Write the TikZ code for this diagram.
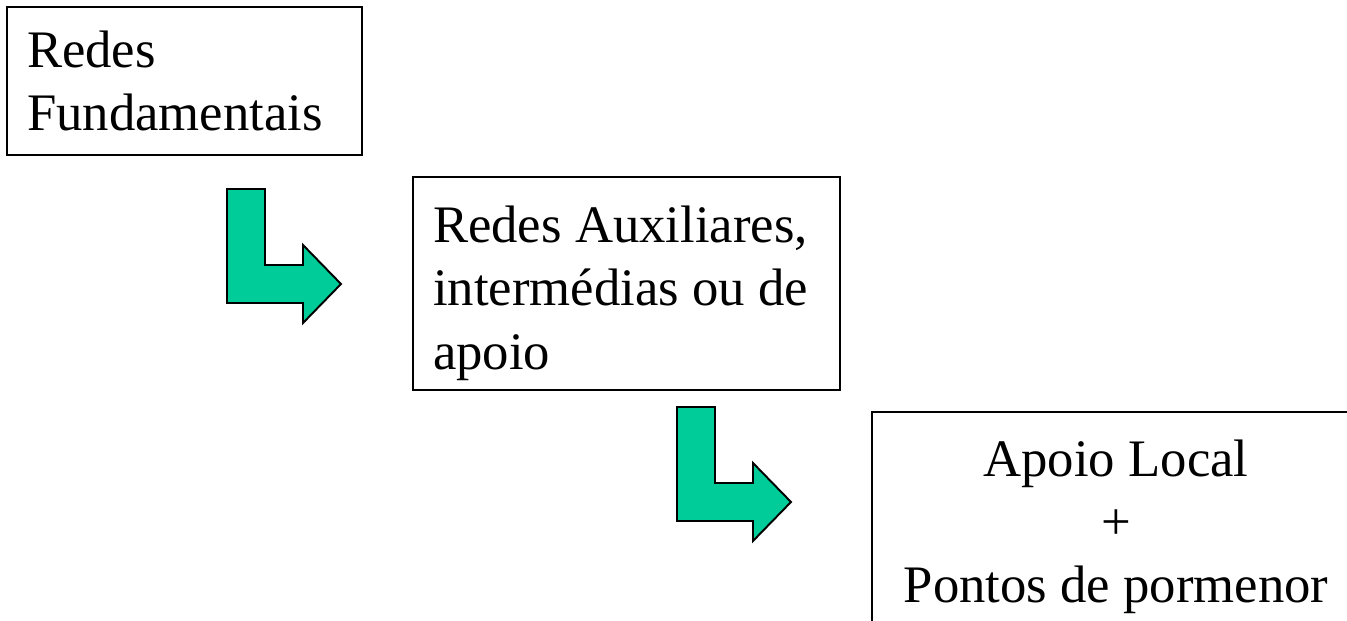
\documentclass[tikz,border=0pt]{standalone}
\usepackage{fontspec}
\setmainfont{Liberation Serif}
\usepackage{tikz}

\definecolor{arrowgreen}{RGB}{0,204,153}

\begin{document}
\begin{tikzpicture}[
                x=0.02cm, y=-0.02cm,
                every node/.style={font=\fontsize{30}{36}\selectfont},
                box node/.style={draw, rectangle, line width=1.1pt, inner xsep=0.4cm, inner ysep=0pt},
                bentarrow/.pic={
                    \draw[fill=arrowgreen, line width=1.1pt, line join=miter]
                        (0,0) -- (38,0) -- (38,76) -- (76,76) -- (76,56) -- (114,95)
                        -- (76,134) -- (76,114) -- (0,114) -- cycle;
                }
            ]

            % Frame
            \useasboundingbox (0,0) rectangle (1347,621);
            \clip (0,0) rectangle (1347,621);

            % Nodes
            \node[box node, minimum width=7.1cm, minimum height=2.96cm, text width=6.3cm, align=flush left] (fund) at (184.5,81) {Redes\\Fundamentais};
            \node[box node, minimum width=8.54cm, minimum height=4.26cm, text width=7.74cm, align=flush left] (aux) at (626.5,283.5) {\rule{0pt}{1.12cm}Redes Auxiliares,\\intermédias ou de\\apoio};
            \node[box node, minimum width=9.76cm, minimum height=4.6cm, text width=8.96cm, align=flush center] (local) at (1116,527) {Apoio Local\\+\\Pontos de pormenor};

            % Arrows
            \pic at (227,189) {bentarrow};
            \pic at (677,407) {bentarrow};

            \end{tikzpicture}
\end{document}
